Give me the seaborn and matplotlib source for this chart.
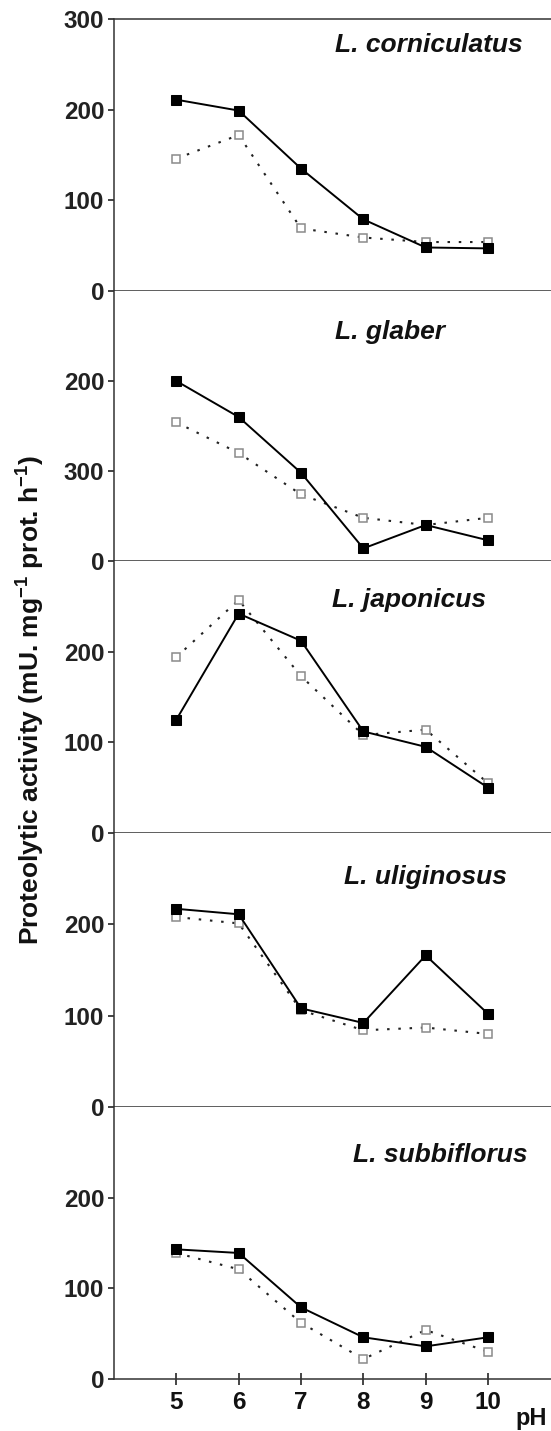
import pandas as pd
import matplotlib
matplotlib.use('Agg')
import matplotlib.pyplot as plt
import seaborn as sns

ph = [5, 6, 7, 8, 9, 10]
species = ['L. corniculatus', 'L. glaber', 'L. japonicus', 'L. uliginosus', 'L. subbiflorus']

# filled squares, solid line
filled = {
    'L. corniculatus': [211, 199, 135, 79, 48, 47],
    'L. glaber':       [200, 160, 98, 14, 40, 23],
    'L. japonicus':    [125, 242, 212, 112, 95, 50],
    'L. uliginosus':   [217, 211, 108, 92, 166, 102],
    'L. subbiflorus':  [143, 139, 79, 46, 36, 46],
}
# open squares, dotted line
opened = {
    'L. corniculatus': [146, 172, 69, 59, 54, 54],
    'L. glaber':       [154, 120, 74, 48, 40, 48],
    'L. japonicus':    [194, 257, 173, 108, 114, 55],
    'L. uliginosus':   [208, 201, 106, 84, 87, 80],
    'L. subbiflorus':  [139, 121, 62, 22, 54, 30],
}

# y tick labels as printed in the figure (second panel is mislabelled in the original)
ytick_labels = [
    ['0', '100', '200', '300'],
    ['0', '300', '200'],
    ['0', '100', '200'],
    ['0', '100', '200'],
    ['0', '100', '200'],
]

sns.set_theme(style="ticks")
plt.rcParams['font.family'] = ['Liberation Sans', 'DejaVu Sans']
plt.rcParams['font.weight'] = 'bold'
plt.rcParams['mathtext.default'] = 'regular'
plt.rcParams['axes.linewidth'] = 1.1

W, H = 551, 1431
fig = plt.figure(figsize=(W / 100, H / 100), dpi=100)

left = 114 / W
edges = [19, 291, 561, 833, 1107, 1379]   # panel boundaries in pixels from top
# where each species name sits (axes fraction, left edge / vertical centre)
name_pos = [(0.506, 0.904), (0.506, 0.848), (0.499, 0.857), (0.526, 0.839), (0.547, 0.824)]

for i, sp in enumerate(species):
    top_px, bot_px = edges[i], edges[i + 1]
    ax = fig.add_axes([left, 1 - bot_px / H, 1 - left, (bot_px - top_px) / H])

    df_open = pd.DataFrame({'pH': ph, 'activity': opened[sp]})
    df_fill = pd.DataFrame({'pH': ph, 'activity': filled[sp]})
    sns.lineplot(data=df_open, x='pH', y='activity', ax=ax, color='#222222',
                 linestyle=(0, (1.2, 4.2)), linewidth=1.5, marker='s', markersize=6,
                 markerfacecolor='white', markeredgecolor='#8a8a8a', markeredgewidth=1.1)
    sns.lineplot(data=df_fill, x='pH', y='activity', ax=ax, color='black',
                 linewidth=1.4, marker='s', markersize=7,
                 markerfacecolor='black', markeredgecolor='black')

    ax.set_xlim(4, 11.01)
    ax.set_ylim(0, 300)
    labels = ytick_labels[i]
    ax.set_yticks([0, 100, 200, 300][:len(labels)])
    ax.set_yticklabels(labels, fontsize=17.5, fontweight='bold', color='#111111')
    ax.tick_params(axis='y', direction='out', length=4, width=1.2, pad=3, colors='#222222')
    ax.set_ylabel('')
    ax.set_xlabel('')

    ax.spines['right'].set_visible(False)
    ax.spines['top'].set_visible(i == 0)
    for s in ax.spines.values():
        s.set_color('#333333')

    if i == len(species) - 1:
        ax.set_xticks(ph)
        ax.set_xticklabels([str(p) for p in ph], fontsize=17.5, fontweight='bold', color='#111111')
        ax.tick_params(axis='x', direction='inout', length=9, width=1.2, pad=4)
    else:
        ax.set_xticks([])

    nx, ny = name_pos[i]
    ax.text(nx, ny, sp, transform=ax.transAxes, ha='left', va='center',
            fontsize=19, fontweight='bold', fontstyle='italic', color='#111111')

fig.text(31 / W, 1 - 700 / H, 'Proteolytic activity (mU. mg$^{-1}$ prot. h$^{-1}$)',
         rotation=90, ha='center', va='center', fontsize=19, fontweight='bold', color='#111111')
fig.text(531 / W, 1 - 1418 / H, 'pH', ha='center', va='center',
         fontsize=17, fontweight='bold', color='#111111')

fig.savefig('out.png', dpi=100)
